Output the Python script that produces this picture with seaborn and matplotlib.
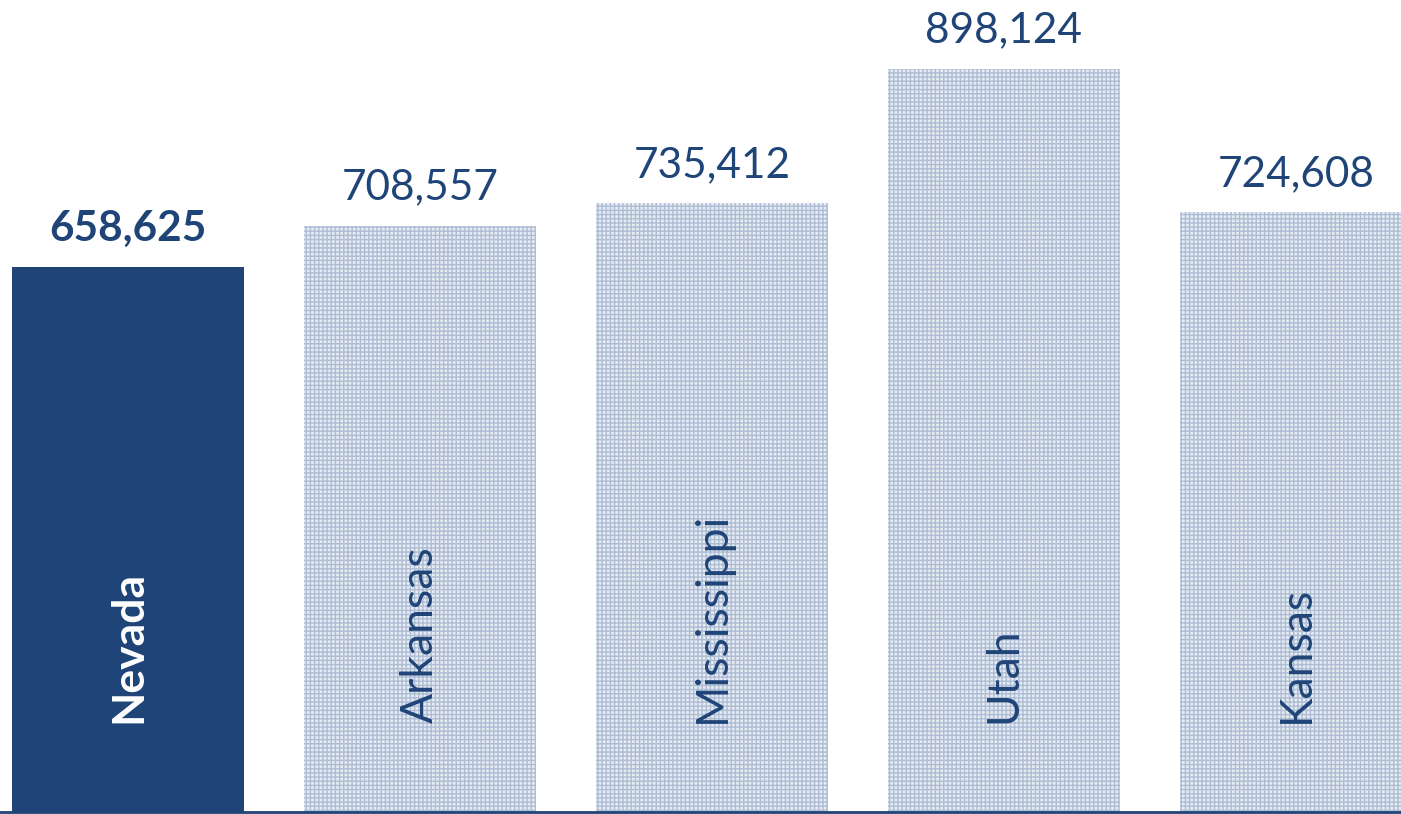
import pandas as pd
import matplotlib.pyplot as plt
import seaborn as sns

# Datos del gráfico
estados = ['Nevada', 'Arkansas', 'Mississippi', 'Utah', 'Kansas']
valores = [658625, 708557, 735412, 898124, 724608]
destacado = 'Nevada'

azul = '#1f4477'
claro = '#e6ebf3'
trama = '#aebdd4'

sns.set_style('white')
plt.rcParams['font.family'] = ['Lato', 'DejaVu Sans']
plt.rcParams['hatch.linewidth'] = 1.0
plt.rcParams['hatch.color'] = trama

df = pd.DataFrame({'estado': estados, 'valor': valores})

fig = plt.figure(figsize=(14.01, 8.14), dpi=100)
ax = fig.add_axes([0, 2 / 814, 1, 812 / 814])

colores = [azul if e == destacado else claro for e in estados]
sns.barplot(data=df, x='estado', y='valor', hue='estado', palette=colores,
            legend=False, width=0.795, saturation=1, ax=ax)

for barra, e in zip(ax.patches, estados):
    barra.set_linewidth(0)
    if e != destacado:
        barra.set_hatch('++++')
        barra.set_edgecolor(trama)

for i, (e, v) in enumerate(zip(estados, valores)):
    negrita = 'bold' if e == destacado else 'normal'
    ax.annotate(f'{v:,}', xy=(i, v), xytext=(0, 14), textcoords='offset points',
                ha='center', va='bottom', fontsize=30.5, color=azul, fontweight=negrita)
    ax.annotate(e, xy=(i, 0), xytext=(0, 64), textcoords='offset points',
                ha='center', va='bottom', rotation=90, fontsize=32,
                color='white' if e == destacado else azul, fontweight=negrita)

ax.set_xlim(-0.438, 4.36)
ax.set_ylim(0, 981300)
ax.axhline(0, color=azul, linewidth=2, clip_on=False)
ax.set_xlabel('')
ax.set_ylabel('')
ax.set_xticks([])
ax.set_yticks([])
sns.despine(ax=ax, left=True, bottom=True)

plt.savefig('out.png', dpi=100)
